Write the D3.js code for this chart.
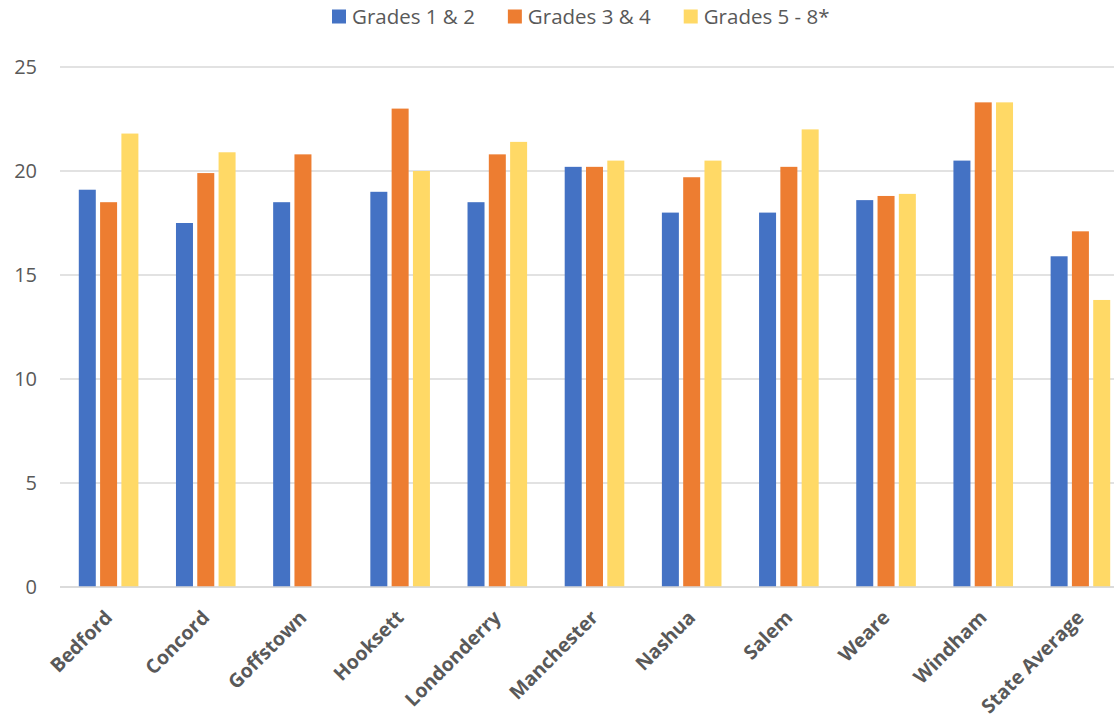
<!DOCTYPE html>
<html>
<head>
<meta charset="utf-8">
<script src="https://cdn.jsdelivr.net/npm/d3@7"></script>
<style>
  html, body { margin: 0; padding: 0; background: #fff; }
  svg { display: block; }
</style>
</head>
<body>
<svg id="chart" width="1114" height="718"></svg>
<script>
// Class-size figures by district and grade band
const districts = ["Bedford", "Concord", "Goffstown", "Hooksett", "Londonderry", "Manchester",
                   "Nashua", "Salem", "Weare", "Windham", "State Average"];
const seriesNames = ["Grades 1 & 2", "Grades 3 & 4", "Grades 5 - 8*"];
const grades12 = [19.1, 17.5, 18.5, 19.0, 18.5, 20.2, 18.0, 18.0, 18.6, 20.5, 15.9];
const grades34 = [18.5, 19.9, 20.8, 23.0, 20.8, 20.2, 19.7, 20.2, 18.8, 23.3, 17.1];
const grades58 = [21.8, 20.9, null, 20.0, 21.4, 20.5, 20.5, 22.0, 18.9, 23.3, 13.8];
const yTicks = [0, 5, 10, 15, 20, 25];
const colors = ["#4472C4", "#ED7D31", "#FFD966"];

const series = [grades12, grades34, grades58];

const svg = d3.select("#chart");
const margin = { left: 60, right: -15, top: 67, bottom: 131 };
const W = 1114, H = 718;

const x = d3.scaleBand()
  .domain(districts)
  .range([margin.left, W - margin.right])
  .paddingInner(0).paddingOuter(0);

const y = d3.scaleLinear()
  .domain([0, 25])
  .range([H - margin.bottom, margin.top]);

// bars sit side by side in the middle of each band
const barW = 17, pitch = 21.3;
const xs = d3.scaleBand()
  .domain(seriesNames)
  .range([-pitch * 1.5, pitch * 1.5])
  .padding(0);

// horizontal gridlines
svg.append("g")
  .selectAll("line")
  .data(yTicks)
  .join("line")
  .attr("x1", margin.left)
  .attr("x2", W)
  .attr("y1", d => y(d))
  .attr("y2", d => y(d))
  .attr("stroke", "#D9D9D9")
  .attr("stroke-width", 1.5);

// y tick labels
svg.append("g")
  .selectAll("text")
  .data(yTicks)
  .join("text")
  .attr("x", 37)
  .attr("y", d => y(d))
  .attr("dy", "0.36em")
  .attr("text-anchor", "end")
  .attr("font-family", "'Open Sans', sans-serif")
  .attr("font-size", 20)
  .attr("fill", "#595959")
  .text(d => d);

// bars
series.forEach((vals, si) => {
  svg.append("g")
    .selectAll("rect")
    .data(districts.map((d, i) => ({ d, v: vals[i] })).filter(o => o.v != null))
    .join("rect")
    .attr("x", o => x(o.d) + x.bandwidth() / 2 + xs(seriesNames[si]) + (pitch - barW) / 2)
    .attr("width", barW)
    .attr("y", o => y(o.v))
    .attr("height", o => y(0) - y(o.v))
    .attr("fill", colors[si]);
});

// baseline over the bars
svg.append("line")
  .attr("x1", margin.left).attr("x2", W)
  .attr("y1", y(0)).attr("y2", y(0))
  .attr("stroke", "#D9D9D9").attr("stroke-width", 1.5);

// category labels, rotated
svg.append("g")
  .selectAll("text")
  .data(districts)
  .join("text")
  .attr("transform", d => `translate(${x(d) + x.bandwidth() / 2},${y(0) + 27}) rotate(-45)`)
  .attr("text-anchor", "end")
  .attr("dy", "0.35em")
  .attr("font-family", "'Open Sans', sans-serif")
  .attr("font-weight", "bold")
  .attr("font-size", 19.5)
  .attr("fill", "#595959")
  .text(d => d);

// legend
const legend = svg.append("g");
let lx = 332;
seriesNames.forEach((name, i) => {
  legend.append("rect")
    .attr("x", lx).attr("y", 9.5)
    .attr("width", 14).attr("height", 14)
    .attr("fill", colors[i]);
  const t = legend.append("text")
    .attr("x", lx + 20).attr("y", 24)
    .attr("font-family", "'Open Sans', sans-serif")
    .attr("font-size", 20.5)
    .attr("fill", "#595959")
    .text(name);
  lx += 20 + t.node().getComputedTextLength() + 33;
});
</script>
</body>
</html>
